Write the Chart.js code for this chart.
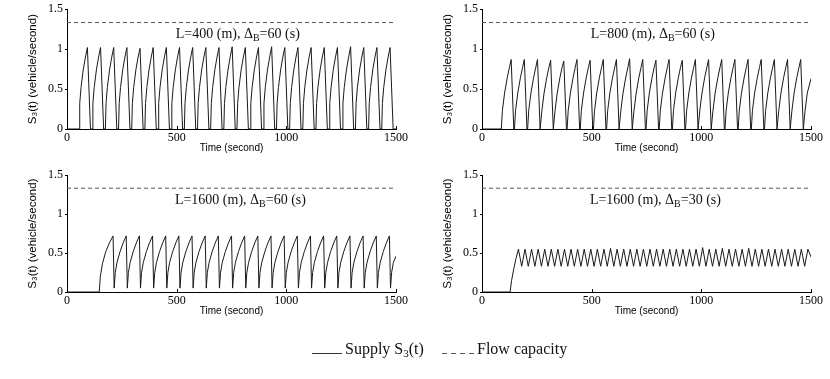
<!DOCTYPE html>
<html><head><meta charset="utf-8">
<script src="https://cdn.jsdelivr.net/npm/chart.js@4.4.0/dist/chart.umd.min.js"></script>
<style>
body{margin:0;background:#fff;width:830px;height:379px;overflow:hidden;position:relative;}
canvas{position:absolute;}
.lg{position:absolute;font-family:"Liberation Serif",serif;font-size:16px;color:#111;white-space:nowrap;line-height:1;}
.lg sub{font-size:11px;vertical-align:-3px;}
</style></head><body>
<canvas id="c1" width="410" height="156" style="left:0;top:0"></canvas>
<canvas id="c2" width="410" height="156" style="left:415px;top:0"></canvas>
<canvas id="c3" width="410" height="153" style="left:0;top:166px"></canvas>
<canvas id="c4" width="410" height="153" style="left:415px;top:166px"></canvas>
<svg style="position:absolute;left:0;top:0" width="830" height="379">
  <line x1="312" y1="353.5" x2="342" y2="353.5" stroke="#333" stroke-width="1"/>
  <line x1="442" y1="353.5" x2="474" y2="353.5" stroke="#555" stroke-width="1" stroke-dasharray="5,4"/>
</svg>
<div class="lg" style="left:345px;top:341px">Supply S<sub>3</sub>(t)</div>
<div class="lg" style="left:477px;top:341px">Flow capacity</div>
<script>
// ---- data ----
const xTicks = [0, 500, 1000, 1500];
const yTicks = [0, 0.5, 1, 1.5];
const flowCapacity = 1.333;
const seriesName = ["Supply S3(t)", "Flow capacity"];

// Panel 1: L=400 m, ΔB=60 s
const t1 = [0,
  55,58,64,74,84,93,107, 115,118,124,134,144,153,167, 175,178,184,194,204,213,227,
  235,238,244,254,264,273,287, 295,298,304,314,324,333,347, 355,358,364,374,384,393,407,
  415,418,424,434,444,453,467, 475,478,484,494,504,513,527, 535,538,544,554,564,573,587,
  595,598,604,614,624,633,647, 655,658,664,674,684,693,707, 715,718,724,734,744,753,767,
  775,778,784,794,804,813,827, 835,838,844,854,864,873,887, 895,898,904,914,924,933,947,
  955,958,964,974,984,993,1007, 1015,1018,1024,1034,1044,1053,1067, 1075,1078,1084,1094,1104,1113,1127,
  1135,1138,1144,1154,1164,1173,1187, 1195,1198,1204,1214,1224,1233,1247, 1255,1258,1264,1274,1284,1293,1307,
  1315,1318,1324,1334,1344,1353,1367, 1375,1378,1384,1394,1404,1413,1427, 1435,1438,1444,1454,1464,1473,1487,
  1500];
const s1 = [0,
  0,.32,.52,.74,.90,1.02,0, 0,.32,.52,.74,.90,1.02,0, 0,.32,.52,.74,.90,1.02,0,
  0,.32,.52,.74,.90,1.02,0, 0,.32,.52,.74,.90,1.01,0, 0,.32,.52,.74,.90,1.02,0,
  0,.32,.52,.74,.90,1.02,0, 0,.32,.52,.74,.90,1.02,0, 0,.32,.52,.74,.90,1.02,0,
  0,.32,.52,.74,.90,1.02,0, 0,.32,.52,.74,.90,1.02,0, 0,.32,.52,.74,.90,1.03,0,
  0,.32,.52,.74,.90,1.02,0, 0,.32,.52,.74,.90,1.02,0, 0,.32,.52,.74,.90,1.03,0,
  0,.32,.52,.74,.90,1.02,0, 0,.32,.52,.74,.90,1.02,0, 0,.32,.52,.74,.90,1.02,0,
  0,.32,.52,.74,.90,1.02,0, 0,.32,.52,.74,.90,1.02,0, 0,.32,.52,.74,.90,1.03,0,
  0,.32,.52,.74,.90,1.02,0, 0,.32,.52,.74,.90,1.02,0, 0,.32,.52,.74,.90,1.02,0,
  0];

// Panel 2: L=800 m, ΔB=60 s
const t2 = [0,
  88,93,103,115,125,133,145, 148,153,163,175,185,193,205, 208,213,223,235,245,253,265,
  268,273,283,295,305,313,325, 328,333,343,355,365,373,385, 388,393,403,415,425,433,445,
  448,453,463,475,485,493,505, 508,513,523,535,545,553,565, 568,573,583,595,605,613,625,
  628,633,643,655,665,673,685, 688,693,703,715,725,733,745, 748,753,763,775,785,793,805,
  808,813,823,835,845,853,865, 868,873,883,895,905,913,925, 928,933,943,955,965,973,985,
  988,993,1003,1015,1025,1033,1045, 1048,1053,1063,1075,1085,1093,1105, 1108,1113,1123,1135,1145,1153,1165,
  1168,1173,1183,1195,1205,1213,1225, 1228,1233,1243,1255,1265,1273,1285, 1288,1293,1303,1315,1325,1333,1345,
  1348,1353,1363,1375,1385,1393,1405, 1408,1413,1423,1435,1445,1453,1465,
  1468,1473,1483,1500];
const s2 = [0,
  0,.23,.45,.64,.77,.87,0, 0,.23,.45,.64,.77,.87,0, 0,.23,.45,.64,.77,.87,0,
  0,.23,.45,.64,.77,.86,0, 0,.23,.45,.64,.77,.85,0, 0,.23,.45,.64,.77,.87,0,
  0,.23,.45,.64,.77,.86,0, 0,.23,.45,.64,.77,.87,0, 0,.23,.45,.64,.77,.87,0,
  0,.23,.45,.64,.77,.88,0, 0,.23,.45,.64,.77,.87,0, 0,.23,.45,.64,.77,.86,0,
  0,.23,.45,.64,.77,.87,0, 0,.23,.45,.64,.77,.86,0, 0,.23,.45,.64,.77,.87,0,
  0,.23,.45,.64,.77,.87,0, 0,.23,.45,.64,.77,.87,0, 0,.23,.45,.64,.77,.87,0,
  0,.23,.45,.64,.77,.87,0, 0,.23,.45,.64,.77,.87,0, 0,.23,.45,.64,.77,.87,0,
  0,.23,.45,.64,.77,.87,0, 0,.23,.45,.64,.77,.87,0,
  0,.23,.45,.63];

// Panel 3: L=1600 m, ΔB=60 s
const t3 = [0, 147,152,162,177,193,210,
  215,220,228,242,256,270, 275,280,288,302,316,330, 335,340,348,362,376,390,
  395,400,408,422,436,450, 455,460,468,482,496,510, 515,520,528,542,556,570,
  575,580,588,602,616,630, 635,640,648,662,676,690, 695,700,708,722,736,750,
  755,760,768,782,796,810, 815,820,828,842,856,870, 875,880,888,902,916,930,
  935,940,948,962,976,990, 995,1000,1008,1022,1036,1050, 1055,1060,1068,1082,1096,1110,
  1115,1120,1128,1142,1156,1170, 1175,1180,1188,1202,1216,1230, 1235,1240,1248,1262,1276,1290,
  1295,1300,1308,1322,1336,1350, 1355,1360,1368,1382,1396,1410, 1415,1420,1428,1442,1456,1470,
  1475,1480,1488,1500];
const s3 = [0, 0,.20,.37,.52,.63,.72,
  .05,.25,.38,.52,.63,.72, .05,.25,.38,.52,.63,.72, .05,.25,.38,.52,.63,.72,
  .05,.25,.38,.52,.63,.72, .05,.25,.38,.52,.63,.72, .05,.25,.38,.52,.63,.72,
  .05,.25,.38,.52,.63,.72, .05,.25,.38,.52,.63,.72, .05,.25,.38,.52,.63,.72,
  .05,.25,.38,.52,.63,.72, .05,.25,.38,.52,.63,.72, .05,.25,.38,.52,.63,.72,
  .05,.25,.38,.52,.63,.72, .05,.25,.38,.52,.63,.72, .05,.25,.38,.52,.63,.72,
  .05,.25,.38,.52,.63,.72, .05,.25,.38,.52,.63,.72, .05,.25,.38,.52,.63,.72,
  .05,.25,.38,.52,.63,.72, .05,.25,.38,.52,.63,.72, .05,.25,.38,.52,.63,.72,
  .05,.25,.38,.46];

// Panel 4: L=1600 m, ΔB=30 s
const t4 = [0, 128,135,145,155,
  166,181,196,211,226,241,256,271,286,301,316,331,346,361,376,391,406,421,436,451,
  466,481,496,511,526,541,556,571,586,601,616,631,646,661,676,691,706,721,736,751,
  766,781,796,811,826,841,856,871,886,901,916,931,946,961,976,991,1006,1021,1036,1051,
  1066,1081,1096,1111,1126,1141,1156,1171,1186,1201,1216,1231,1246,1261,1276,1291,1306,1321,1336,1351,
  1366,1381,1396,1411,1426,1441,1456,1471,1486,1500];
const s4 = [0, 0,.15,.30,.43,
  .55,.33,.55,.33,.55,.33,.55,.33,.55,.33,.55,.33,.55,.33,.55,.33,.55,.33,.55,.33,
  .55,.33,.55,.33,.55,.33,.55,.33,.56,.33,.55,.33,.55,.33,.55,.33,.55,.33,.55,.33,
  .55,.33,.55,.33,.55,.33,.55,.33,.55,.33,.55,.33,.55,.33,.55,.33,.57,.33,.55,.33,
  .55,.33,.56,.33,.55,.33,.55,.33,.55,.33,.56,.33,.55,.33,.55,.33,.55,.33,.55,.33,
  .55,.33,.55,.33,.55,.33,.55,.33,.55,.45];

const panels = [
  {id: 'c1', t: t1, s: s1, L: '400', dB: '60', lx: 496},
  {id: 'c2', t: t2, s: s2, L: '800', dB: '60', lx: 496},
  {id: 'c3', t: t3, s: s3, L: '1600', dB: '60', lx: 492},
  {id: 'c4', t: t4, s: s4, L: '1600', dB: '30', lx: 492}
];

// ---- drawing ----
const annotPlugin = {
  id: 'annot',
  afterDatasetsDraw(chart, args, opts) {
    const {ctx, scales: {x, y}} = chart;
    const px = x.getPixelForValue(opts.lx);
    const py = y.getPixelForValue(1.135);
    ctx.save();
    ctx.fillStyle = '#111';
    ctx.textBaseline = 'alphabetic';
    ctx.textAlign = 'left';
    const big = '14px "Liberation Serif"', small = '10px "Liberation Serif"';
    let cx = px;
    const parts = [['L=' + opts.L + ' (m), \u0394', big, 0], ['B', small, 3], ['=' + opts.dB + ' (s)', big, 0]];
    for (const [txt, f, dy] of parts) {
      ctx.font = f;
      ctx.fillText(txt, cx, py + dy);
      cx += ctx.measureText(txt).width;
    }
    ctx.restore();
  }
};
const inwardTicks = {
  id: 'inwardTicks',
  afterDraw(chart) {
    const {ctx, scales: {x}, chartArea} = chart;
    ctx.save();
    ctx.strokeStyle = '#000';
    ctx.lineWidth = 1;
    for (const v of xTicks) {
      const p = Math.round(x.getPixelForValue(v)) + 0.5;
      ctx.beginPath();
      ctx.moveTo(p, chartArea.bottom);
      ctx.lineTo(p, chartArea.bottom - 3);
      ctx.stroke();
    }
    ctx.restore();
  }
};

for (const p of panels) {
  new Chart(document.getElementById(p.id), {
    type: 'line',
    data: {
      datasets: [
        {label: seriesName[0], data: p.t.map((v, i) => ({x: v, y: p.s[i]})),
         borderColor: '#1a1a1a', borderWidth: 1, pointRadius: 0, tension: 0, fill: false},
        {label: seriesName[1], data: [{x: xTicks[0], y: flowCapacity}, {x: xTicks[xTicks.length - 1], y: flowCapacity}],
         borderColor: '#555', borderWidth: 1, borderDash: [4, 3], pointRadius: 0, fill: false}
      ]
    },
    options: {
      responsive: false, animation: false, events: [],
      layout: {padding: {top: 7, right: 12, left: 0, bottom: 0}},
      plugins: {legend: {display: false}, tooltip: {enabled: false}, annot: {L: p.L, dB: p.dB, lx: p.lx}},
      scales: {
        x: {
          type: 'linear', min: 0, max: 1500,
          afterBuildTicks: sc => { sc.ticks = xTicks.map(v => ({value: v})); },
          ticks: {callback: v => String(v), font: {family: 'Liberation Serif', size: 12}, color: '#000', padding: 2, maxRotation: 0, autoSkip: false},
          grid: {display: true, drawOnChartArea: false, drawTicks: false, color: '#000'},
          border: {display: true, color: '#000', width: 1},
          title: {display: true, text: 'Time (second)', font: {family: 'Liberation Sans', size: 10}, color: '#000', padding: {top: 0, bottom: 2}},
          afterFit: sc => { sc.height = 27; }
        },
        y: {
          type: 'linear', min: 0, max: 1.5,
          afterBuildTicks: sc => { sc.ticks = yTicks.map(v => ({value: v})); },
          ticks: {callback: v => String(v), font: {family: 'Liberation Serif', size: 12}, color: '#000', padding: 2},
          grid: {display: true, drawOnChartArea: false, drawTicks: true, tickLength: 2, color: '#000'},
          border: {display: true, color: '#000', width: 1},
          title: {display: true, text: 'S\u2083(t) (vehicle/second)', font: {family: 'Liberation Sans', size: 11.5}, color: '#000', padding: {top: 26, bottom: 0}},
          afterFit: sc => { sc.width = 67; }
        }
      }
    },
    plugins: [annotPlugin, inwardTicks]
  });
}
</script>
</body></html>
